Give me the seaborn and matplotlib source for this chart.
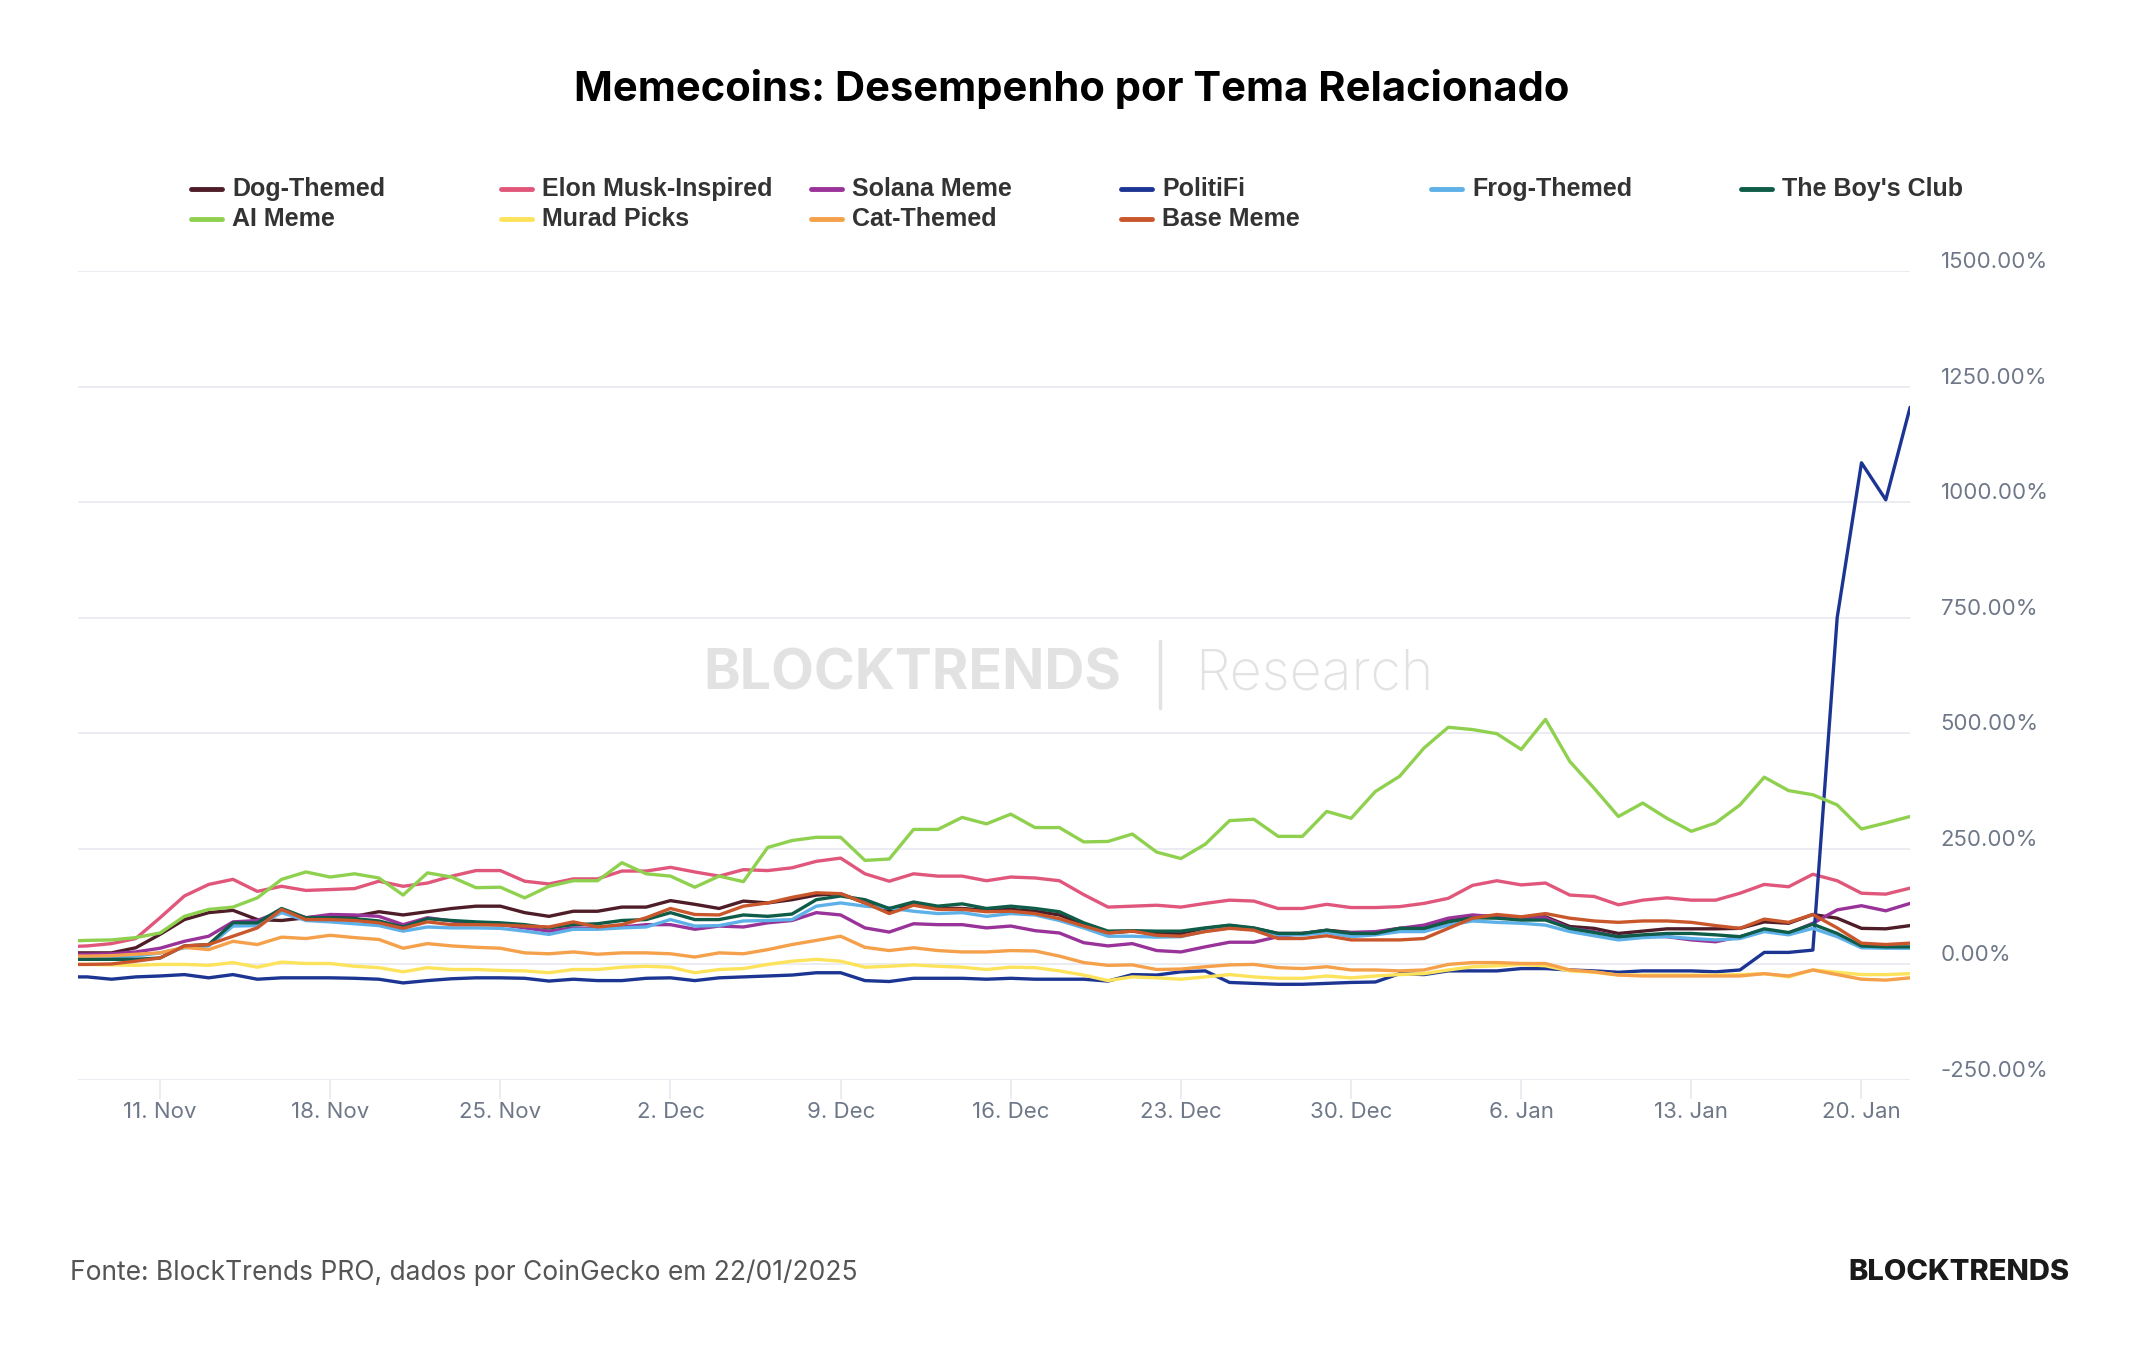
import numpy as np
import pandas as pd
import matplotlib.pyplot as plt
import matplotlib.dates as mdates
from matplotlib.lines import Line2D
from matplotlib.transforms import ScaledTranslation
import seaborn as sns

# eixo de datas: 7 nov 2024 a 22 jan 2025 (diário)
dates = pd.date_range("2024-11-07", "2025-01-22", freq="D")

series_names = ["Dog-Themed", "Elon Musk-Inspired", "Solana Meme", "PolitiFi",
                "Frog-Themed", "The Boy's Club", "AI Meme", "Murad Picks",
                "Cat-Themed", "Base Meme"]
colors = ["#4e1d27", "#e0577b", "#993399", "#1c3593", "#5db0e8",
          "#0f5c49", "#8fd14f", "#fde35b", "#f5a04a", "#c9572b"]

dog = [25,
       25, 25, 36, 65, 97, 112, 117, 97, 95, 101, 104, 104, 114, 107, 114, 121,
       126, 126, 112, 104, 115, 115, 124, 124, 138, 130, 121, 137, 133, 140, 150,
       153, 133, 115, 130, 122, 121, 117, 119, 115, 107, 86, 68, 72, 68, 66,
       78, 84, 78, 67, 67, 74, 69, 69, 78, 78, 94, 103, 105, 101, 103,
       82, 78, 67, 72, 77, 77, 77, 78, 92, 89, 108, 100, 78, 77, 84]
elon = [38,
        40, 45, 56, 101, 148, 173, 184, 158, 169, 160, 162, 164, 180, 169, 176, 191,
        203, 203, 180, 174, 185, 185, 202, 202, 210, 200, 191, 205, 203, 209, 223,
        230, 196, 180, 196, 191, 191, 181, 189, 187, 181, 151, 124, 126, 128, 124,
        132, 139, 137, 121, 121, 130, 123, 123, 125, 132, 143, 171, 181, 172, 176,
        150, 147, 129, 139, 144, 139, 139, 154, 173, 168, 195, 181, 154, 152, 165]
solana = [22,
          22, 23, 27, 35, 50, 61, 92, 95, 115, 101, 108, 107, 104, 86, 101, 94,
          88, 86, 79, 72, 79, 78, 81, 86, 86, 76, 83, 81, 90, 95, 112,
          107, 79, 70, 88, 86, 86, 79, 83, 73, 68, 47, 40, 45, 30, 27,
          38, 48, 48, 60, 67, 71, 69, 71, 78, 85, 100, 107, 103, 100, 101,
          78, 71, 60, 62, 60, 53, 49, 60, 74, 67, 89, 118, 127, 116, 132]
politifi = [-27,
            -27, -32, -27, -25, -22, -29, -22, -32, -29, -29, -29, -30, -32, -40, -35, -31,
            -29, -29, -30, -36, -32, -35, -35, -30, -29, -35, -29, -27, -25, -23, -18,
            -18, -35, -37, -30, -30, -30, -32, -30, -32, -32, -32, -36, -22, -23, -16,
            -14, -39, -41, -43, -43, -41, -39, -38, -20, -22, -14, -14, -14, -9, -9,
            -12, -14, -17, -14, -14, -14, -16, -12, 26, 26, 31, 750, 1085, 1005, 1205]
frog = [16,
        16, 16, 18, 25, 36, 40, 83, 84, 112, 95, 92, 88, 84, 72, 81, 79,
        79, 78, 72, 65, 76, 76, 79, 81, 97, 83, 84, 94, 95, 97, 126,
        133, 126, 122, 115, 110, 112, 104, 110, 107, 95, 79, 61, 61, 59, 60,
        72, 79, 77, 64, 64, 69, 60, 64, 71, 71, 85, 94, 91, 89, 85,
        71, 62, 53, 58, 60, 56, 53, 56, 71, 64, 78, 60, 36, 35, 35]
boys_club = [11,
             11, 11, 11, 14, 40, 43, 90, 90, 121, 101, 101, 99, 94, 81, 99, 95,
             92, 90, 86, 79, 86, 88, 95, 97, 112, 97, 97, 107, 104, 109, 140,
             148, 140, 121, 135, 126, 131, 121, 126, 121, 114, 90, 72, 73, 72, 72,
             79, 85, 79, 67, 67, 74, 67, 67, 78, 78, 92, 101, 100, 96, 96,
             78, 69, 60, 64, 67, 67, 64, 60, 77, 69, 87, 67, 40, 38, 38]
ai_meme = [50,
           52, 53, 58, 68, 104, 119, 124, 144, 184, 200, 189, 196, 187, 150, 198, 189,
           166, 167, 144, 169, 181, 181, 220, 196, 191, 167, 191, 179, 253, 268, 275,
           275, 225, 228, 292, 292, 318, 304, 325, 296, 296, 265, 266, 282, 243, 229,
           260, 311, 314, 277, 277, 331, 316, 374, 407, 468, 513, 508, 499, 465, 530,
           439, 381, 320, 349, 316, 288, 306, 345, 405, 376, 367, 345, 293, 306, 320]
murad = [0,
         0, -1, -2, 0, 0, -2, 4, -6, 5, 2, 2, -4, -7, -16, -7, -11,
         -11, -13, -14, -18, -11, -11, -6, -4, -6, -18, -11, -9, 0, 7, 11,
         7, -6, -4, -1, -4, -6, -11, -6, -7, -14, -23, -35, -27, -29, -32,
         -27, -22, -27, -30, -30, -25, -29, -25, -22, -20, -12, -5, -3, 0, -3,
         -14, -17, -23, -23, -23, -23, -23, -22, -20, -27, -12, -17, -22, -22, -20]
cat = [18,
       18, 19, 22, 25, 37, 32, 50, 43, 59, 56, 63, 58, 54, 35, 45, 40,
       37, 35, 25, 23, 27, 22, 25, 25, 23, 16, 25, 23, 32, 43, 52,
       61, 37, 30, 36, 30, 27, 27, 30, 29, 18, 4, -2, -1, -11, -10,
       -5, -1, 0, -7, -9, -5, -12, -12, -14, -12, 0, 4, 4, 2, 2,
       -12, -16, -23, -25, -25, -25, -25, -25, -20, -25, -12, -22, -32, -34, -29]
base = [0,
        0, 1, 7, 14, 40, 43, 61, 79, 119, 97, 97, 95, 90, 78, 92, 86,
        86, 85, 83, 81, 92, 81, 86, 101, 121, 108, 107, 126, 133, 145, 155,
        153, 133, 110, 128, 119, 119, 114, 115, 110, 99, 83, 68, 72, 63, 61,
        71, 78, 74, 56, 56, 62, 53, 53, 53, 56, 78, 100, 108, 103, 110,
        100, 94, 91, 94, 94, 91, 84, 78, 98, 91, 108, 79, 46, 43, 46]

y_ticks = [-250, 0, 250, 500, 750, 1000, 1250, 1500]

values = [dog, elon, solana, politifi, frog, boys_club, ai_meme, murad, cat, base]
df = pd.concat(
    [pd.DataFrame({"data": dates, "retorno": v, "tema": n})
     for n, v in zip(series_names, values)],
    ignore_index=True,
)

GRID = "#e6e9f0"
TICK = "#6f7889"
MARCA = "#e2e2e2"

sns.set_theme(style="white")
plt.rcParams["font.family"] = ["Inter", "DejaVu Sans"]

fig = plt.figure(figsize=(21.44, 13.5), dpi=100, facecolor="white")
ax = fig.add_axes([0.0364, 0.2, 0.8545, 0.5993])
ax.patch.set_alpha(0)

sns.lineplot(data=df, x="data", y="retorno", hue="tema",
             hue_order=series_names, palette=colors,
             linewidth=2.4, legend=False, ax=ax)

ax.set_ylim(-250, 1500)
ax.set_xlim(pd.Timestamp("2024-11-07 15:00"), dates[-1])
ax.set_yticks(y_ticks)
ax.set_yticklabels([f"{t:.2f}%" for t in y_ticks])
ax.yaxis.tick_right()
ax.grid(axis="y", color=GRID, lw=1.2)
ax.grid(axis="x", visible=False)
for sp in ax.spines.values():
    sp.set_visible(False)
ax.set_xlabel("")
ax.set_ylabel("")

ax.xaxis.set_major_locator(mdates.WeekdayLocator(byweekday=mdates.MO))
ax.xaxis.set_major_formatter(mdates.DateFormatter("%-d. %b"))
ax.tick_params(axis="x", colors=GRID, labelcolor=TICK, length=14, width=1.2,
               labelsize=16, pad=2, bottom=True)
ax.tick_params(axis="y", length=0, labelcolor=TICK, labelsize=16, pad=22)
off = ScaledTranslation(0, 11 / 100, fig.dpi_scale_trans)
for lab in ax.get_yticklabels():
    lab.set_transform(lab.get_transform() + off)
    lab.set_horizontalalignment("left")

# marca d'água
fig.text(1121 / 2144, 1 - 674 / 1350, "BLOCKTRENDS", ha="right", va="center",
         fontsize=40, fontweight="bold", color=MARCA, zorder=-1)
fig.add_artist(Line2D([1160 / 2144] * 2, [1 - 641 / 1350, 1 - 708 / 1350],
                      color=MARCA, lw=2.5, zorder=-1))
fig.text(1195 / 2144, 1 - 674 / 1350, "Research", ha="left", va="center",
         fontsize=40, fontweight="light", color=MARCA, zorder=-1)

# legenda (linha a linha, 6 colunas)
for i, (name, c) in enumerate(zip(series_names, colors)):
    col, row = i % 6, i // 6
    x0 = (191 + 310 * col) / 2144
    y0 = 1 - (189 + 30 * row) / 1350
    fig.add_artist(Line2D([x0, x0 + 31 / 2144], [y0, y0], color=c, lw=3.5))
    fig.text(x0 + 41 / 2144, y0, name, ha="left", va="center",
             fontsize=18, fontweight="bold", color="#333333",
             family=["Liberation Sans", "DejaVu Sans"])

fig.text(0.5, 1 - 89 / 1350, "Memecoins: Desempenho por Tema Relacionado",
         ha="center", va="center", fontsize=30, fontweight="bold", color="black")
fig.text(70 / 2144, 1 - 1273 / 1350,
         "Fonte: BlockTrends PRO, dados por CoinGecko em 22/01/2025",
         ha="left", va="center", fontsize=19, color="#555555")
fig.text(2070 / 2144, 1 - 1273 / 1350, "BLOCKTRENDS", ha="right", va="center",
         fontsize=21, fontweight="heavy", color="#1a1a1a")

fig.savefig("out.png", dpi=100, facecolor="white")
